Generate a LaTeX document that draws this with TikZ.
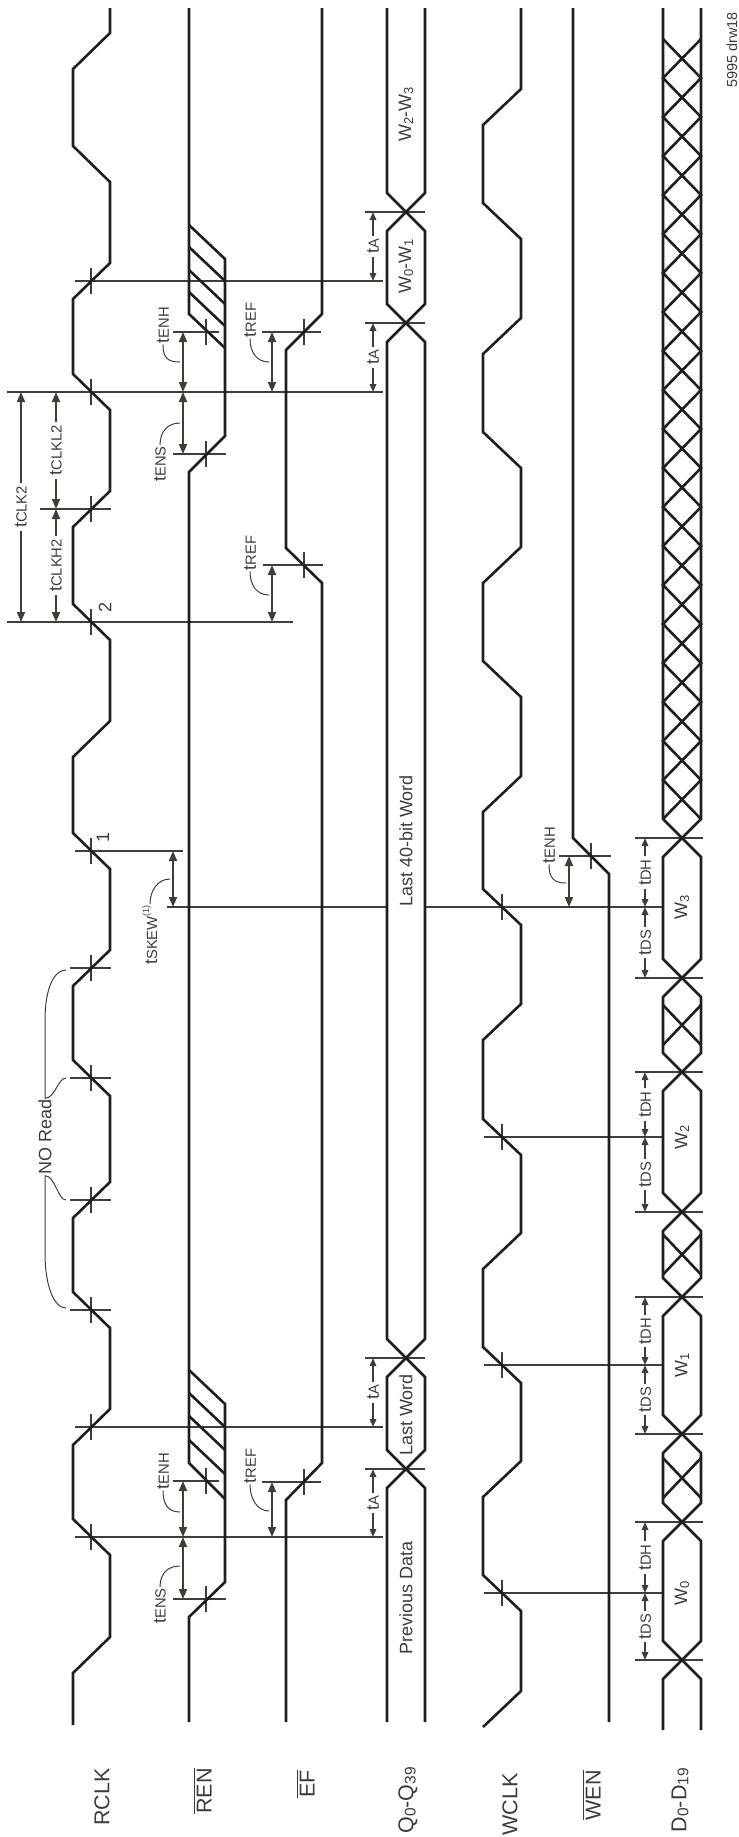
\documentclass[tikz,border=0pt]{standalone}
\usepackage{fontspec}
\setmainfont{Liberation Sans}
\usepackage{tikz}
\usetikzlibrary{arrows.meta}
\definecolor{wavegray}{RGB}{30,30,30}
\definecolor{dimgray}{RGB}{62,62,56}
\definecolor{textgray}{RGB}{60,60,60}
\newcommand{\sm}[1]{\scalebox{0.82}{#1}}
\newcommand{\lo}[1]{\raisebox{-0.1em}{\scalebox{0.72}{#1}}}
\newcommand{\ovl}[1]{\sbox0{#1}\rlap{\rule[\dimexpr\ht0+1.5pt\relax]{\wd0}{0.9pt}}\usebox0}
\tikzstyle{wave} = [line width=2.6pt, color=wavegray]
\tikzstyle{refline} = [line width=2pt, color=dimgray]
\tikzstyle{leader} = [line width=1pt, color=dimgray]
\tikzstyle{dimarrow} = [line width=1.8pt, color=dimgray, {Triangle[length=10pt,width=8pt]}-{Triangle[length=10pt,width=8pt]}]
\tikzstyle{smallarrow} = [line width=1.8pt, color=dimgray, {Triangle[length=8pt,width=6.5pt]}-{Triangle[length=8pt,width=6.5pt]}]
\tikzstyle{vtext} = [rotate=90, text=textgray, inner sep=1pt, font=\fontsize{18}{20}\selectfont]
\tikzstyle{gaptext} = [vtext, fill=white, inner sep=3pt]
\tikzstyle{signame} = [rotate=90, anchor=east, inner sep=0pt, text=textgray, font=\fontsize{21.5}{24}\selectfont]

\begin{document}
\begin{tikzpicture}[x=1pt, y=-1pt]
\useasboundingbox (0,0) rectangle (739,1837);

% Reference lines on RCLK edges
\foreach \y/\xa/\xb in {281/75/383, 392/7/383, 509/40/111, 622/7/293, 851/75/183,
    968/70/111, 1078/70/111, 1200/70/111, 1310/70/111, 1427/75/383, 1537/75/383}
  \draw[refline] (\xa,\y) -- (\xb,\y);
\foreach \y in {281,392,509,622,851,968,1078,1200,1310,1427,1537}
  \draw[refline] (91,\y-13) -- (91,\y+13);

% Crosses on REN, EF and WEN
\foreach \x/\y/\xa/\xb in {206/332/173/219, 206/454/173/226, 206/1481/173/219, 206/1599/173/226,
    304/332/262/321, 304/565/263/323, 304/1482/262/321, 591/856/559/611} {
  \draw[refline] (\xa,\y) -- (\xb,\y);
  \draw[refline] (\x,\y-13) -- (\x,\y+13);
}

% Reference lines on WCLK edges
\draw[refline] (167,907) -- (387,907);
\draw[refline] (425,907) -- (663,907);
\foreach \y in {1137,1365,1593} \draw[refline] (484,\y) -- (663,\y);
\foreach \y in {907,1137,1365,1593} \draw[refline] (502,\y-13) -- (502,\y+13);

% Bus transition lines
\foreach \y in {212,323,1358,1469} \draw[refline] (365,\y) -- (425,\y);
\foreach \y in {838,978,1072,1212,1297,1434,1522,1660} \draw[refline] (635,\y) -- (703,\y);

% RCLK
\draw[wave] (110,8) \foreach \m/\a/\b in {51/110/73, 164/73/110, 281/110/73, 392/73/110,
    509/110/73, 622/73/110, 739/110/73, 851/73/110, 968/110/73, 1078/73/110,
    1200/110/73, 1310/73/110, 1427/110/73, 1537/73/110, 1655/110/73}
  { -- (\a,\m-18) -- (\b,\m+18) } -- (73,1725);

% REN
\draw[wave] (189,8) -- (189,314) -- (225,348);
\draw[wave] (189,225) -- (225,259) -- (225,436) -- (189,472) -- (189,1463) -- (225,1499);
\draw[wave] (189,1370) -- (225,1404) -- (225,1582) -- (189,1617) -- (189,1722);
\foreach \y in {247,270,292,1393,1416,1440} \draw[wave] (189,\y) -- (225,\y+34);

% EF
\draw[wave] (322,8) -- (322,314) -- (286,350) -- (286,548) -- (322,583) -- (322,1463)
  -- (286,1500) -- (286,1722);

% Q0-Q39
\draw[wave] (387,8) \foreach \m/\a/\b in {212/387/425, 323/425/387, 1358/387/425, 1469/425/387}
  { -- (\a,\m-19) -- (\b,\m+19) } -- (387,1722);
\draw[wave] (425,8) \foreach \m/\a/\b in {212/425/387, 323/387/425, 1358/425/387, 1469/387/425}
  { -- (\a,\m-19) -- (\b,\m+19) } -- (425,1722);

% WCLK
\draw[wave] (521,8) \foreach \m/\a/\b in {107/521/483, 221/483/521, 336/521/483, 450/483/521,
    565/521/483, 679/483/521, 794/521/483, 907/483/521, 1022/521/483, 1137/483/521,
    1251/521/483, 1365/483/521, 1479/521/483, 1593/483/521, 1709/521/483}
  { -- (\a,\m-18) -- (\b,\m+18) };

% WEN
\draw[wave] (573,8) -- (573,838) -- (609,874) -- (609,1722);

% D0-D19
\draw[wave] (663,8) \foreach \m/\a/\b in {838/663/701, 978/701/663, 1072/663/701, 1212/701/663,
    1297/663/701, 1434/701/663, 1522/663/701, 1660/701/663}
  { -- (\a,\m-19) -- (\b,\m+19) } -- (663,1730);
\draw[wave] (701,8) \foreach \m/\a/\b in {838/701/663, 978/663/701, 1072/701/663, 1212/663/701,
    1297/701/663, 1434/663/701, 1522/701/663, 1660/663/701}
  { -- (\a,\m-19) -- (\b,\m+19) } -- (701,1730);
\draw[wave] (663,39) \foreach \k in {0,...,9} { -- (701,78+78*\k) -- (663,117+78*\k) };
\draw[wave] (701,39) \foreach \k in {0,...,9} { -- (663,78+78*\k) -- (701,117+78*\k) };
\foreach \c in {1025,1254.5,1478} {
  \draw[wave] (663,\c-20) -- (701,\c+20);
  \draw[wave] (701,\c-20) -- (663,\c+20);
}

% Clock period
\draw[dimarrow] (21,392) -- node[gaptext] (tclk) {t\sm{CLK2}} (21,622);
\draw[dimarrow] (56,392) -- node[gaptext] (tclkl) {t\sm{CLKL2}} (56,509);
\draw[dimarrow] (56,509) -- node[gaptext] (tclkh) {t\sm{CLKH2}} (56,622);
\node[vtext] (edge2) at (105,607) {2};
\node[vtext] (edge1) at (103,837) {1};

% Enable setup and hold
\draw[dimarrow] (183,332) -- (183,392);
\draw[dimarrow] (183,392) -- (183,454);
\draw[dimarrow] (183,1481) -- (183,1537);
\draw[dimarrow] (183,1537) -- (183,1599);
\draw[dimarrow] (569,856) -- (569,907);
\node[vtext] (enhA) at (163,325) {t\sm{ENH}};
\node[vtext] (ensA) at (160,464) {t\sm{ENS}};
\node[vtext] (enhB) at (163,1471) {t\sm{ENH}};
\node[vtext] (ensB) at (160,1606) {t\sm{ENS}};
\node[vtext] (enhW) at (549,845) {t\sm{ENH}};
\draw[leader] (enhA.west) .. controls +(0,14) and +(-12,0) .. (180,362);
\draw[leader] (ensA.east) .. controls +(0,-14) and +(-12,0) .. (180,423);
\draw[leader] (enhB.west) .. controls +(0,14) and +(-12,0) .. (180,1512);
\draw[leader] (ensB.east) .. controls +(0,-14) and +(-12,0) .. (180,1566);
\draw[leader] (enhW.west) .. controls +(0,14) and +(-12,0) .. (566,883);

% Empty flag
\draw[dimarrow] (272,332) -- (272,392);
\draw[dimarrow] (272,565) -- (272,622);
\draw[dimarrow] (272,1482) -- (272,1537);
\node[vtext] (refA) at (250,320) {t\sm{REF}};
\node[vtext] (refB) at (250,553) {t\sm{REF}};
\node[vtext] (refC) at (250,1466) {t\sm{REF}};
\draw[leader] (refA.west) .. controls +(0,14) and +(-12,0) .. (269,362);
\draw[leader] (refB.west) .. controls +(0,14) and +(-12,0) .. (269,595);
\draw[leader] (refC.west) .. controls +(0,14) and +(-12,0) .. (269,1511);

% Skew
\draw[dimarrow] (173,851) -- (173,907);
\node[vtext] (skew) at (150,935) {t\sm{SKEW}\raisebox{8pt}{\scalebox{0.5}{(1)}}};
\draw[leader] (skew.east) .. controls +(0,-14) and +(-12,0) .. (170,879);

% No read
\node[vtext] (noread) at (45,1137) {NO Read};
\draw[leader] (noread.east) -- ++(0,-78) .. controls +(0,-32) and +(-12,0) .. (66,970);
\draw[leader] (noread.east) .. controls +(10,0) and +(-8,0) .. (66,1078);
\draw[leader] (noread.west) -- ++(0,78) .. controls +(0,32) and +(-12,0) .. (66,1308);
\draw[leader] (noread.west) .. controls +(10,0) and +(-8,0) .. (66,1200);

% Access time
\draw[smallarrow] (373,212) -- node[gaptext] (taA) {t\sm{A}} (373,281);
\draw[smallarrow] (373,323) -- node[gaptext] (taB) {t\sm{A}} (373,392);
\draw[smallarrow] (373,1358) -- node[gaptext] (taC) {t\sm{A}} (373,1427);
\draw[smallarrow] (373,1469) -- node[gaptext] (taD) {t\sm{A}} (373,1537);

% Data setup and hold
\foreach \h/\w/\s in {838/907/978, 1072/1137/1212, 1297/1365/1434, 1522/1593/1660} {
  \draw[smallarrow] (645,\h) -- node[gaptext] {t\sm{DH}} (645,\w);
  \draw[smallarrow] (645,\w) -- node[gaptext] {t\sm{DS}} (645,\s);
}

% Bus contents
\node[vtext] (qw23) at (406,114) {W\lo{2}-W\lo{3}};
\node[vtext] (qw01) at (406,266) {W\lo{0}-W\lo{1}};
\node[vtext] (qlast40) at (406,841) {Last 40-bit Word};
\node[vtext] (qlast) at (406,1415) {Last Word};
\node[vtext] (qprev) at (406,1598) {Previous Data};
\node[vtext] (dw3) at (682,907) {W\lo{3}};
\node[vtext] (dw2) at (682,1137) {W\lo{2}};
\node[vtext] (dw1) at (682,1365) {W\lo{1}};
\node[vtext] (dw0) at (682,1593) {W\lo{0}};

% Signal names
\node[signame] (nRCLK) at (102,1768) {RCLK};
\node[signame] (nREN) at (203,1768) {\ovl{REN}};
\node[signame] (nEF) at (306,1770) {\ovl{EF}};
\node[signame] (nQ) at (408,1767) {Q\lo{0}-Q\lo{39}};
\node[signame] (nWCLK) at (510,1773) {WCLK};
\node[signame] (nWEN) at (592,1770) {\ovl{WEN}};
\node[signame] (nD) at (680,1768) {D\lo{0}-D\lo{19}};
\node[vtext, font=\fontsize{14.5}{16}\selectfont] (drw) at (732,50) {5995 drw18};
\end{tikzpicture}
\end{document}
